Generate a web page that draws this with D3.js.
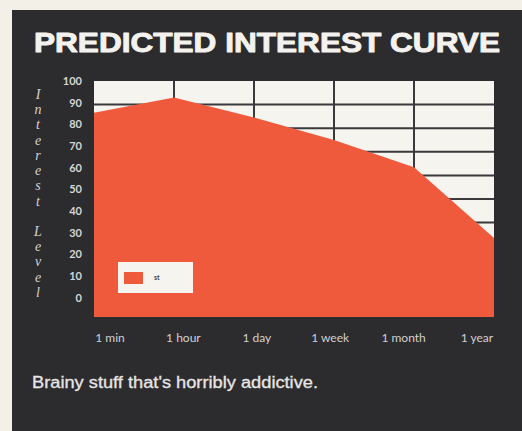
<!DOCTYPE html>
<html>
<head>
<meta charset="utf-8">
<script src="https://cdn.jsdelivr.net/npm/d3@7"></script>
<style>
  html, body { margin: 0; padding: 0; background: #f3f0e7; }
  svg { display: block; }
</style>
</head>
<body>
<svg id="chart" width="522" height="431"></svg>
<script>
// Time horizons along the bottom
const periods = ["1 min", "1 hour", "1 day", "1 week", "1 month", "1 year"];
// Interest level at each horizon
const interest = [86.5, 93, 84.5, 75, 63.5, 33.5];
// Labels for the vertical scale
const levelTicks = [0, 10, 20, 30, 40, 50, 60, 70, 80, 90, 100];
const gridLevels = [10, 20, 30, 40, 50, 60, 70, 80, 90];
const axisTitle = "Interest Level";
const legendKey = "st";

const svg = d3.select("#chart");

// dark panel
svg.append("rect").attr("x", 12).attr("y", 10).attr("width", 510).attr("height", 421)
  .attr("fill", "#2c2b2d");

// title, stroked to thicken the heavy face
svg.append("text").attr("x", 34).attr("y", 52)
  .attr("font-family", "Liberation Sans, Arial, sans-serif")
  .attr("font-weight", 900).attr("font-size", 28)
  .attr("textLength", 466).attr("lengthAdjust", "spacingAndGlyphs")
  .attr("fill", "#f4f2ee").attr("stroke", "#f4f2ee").attr("stroke-width", 1)
  .attr("stroke-linejoin", "round")
  .text("PREDICTED INTEREST CURVE");

const plot = { left: 94, right: 494, top: 81, bottom: 317 };

const x = d3.scalePoint().domain(periods).range([plot.left, plot.right]);
const y = d3.scaleLinear().domain([0, 100]).range([plot.bottom, plot.top]);
// printed scale labels sit slightly compressed against the grid
const yLabel = d3.scaleLinear().domain([0, 100]).range([298, 81]);
const xLabel = d3.scalePoint().domain(periods).range([110, 477]);

// plot background
svg.append("rect").attr("x", plot.left).attr("y", plot.top)
  .attr("width", plot.right - plot.left).attr("height", plot.bottom - plot.top)
  .attr("fill", "#f6f4ef");

// grid
const grid = svg.append("g").attr("stroke", "#3a393b").attr("stroke-width", 2);
grid.selectAll("line.h").data(gridLevels).join("line").attr("class", "h")
  .attr("x1", plot.left).attr("x2", plot.right)
  .attr("y1", d => y(d)).attr("y2", d => y(d));
grid.selectAll("line.v").data(periods.slice(1, -1)).join("line").attr("class", "v")
  .attr("x1", d => x(d)).attr("x2", d => x(d))
  .attr("y1", plot.top).attr("y2", plot.bottom);

// area
const area = d3.area()
  .x((d, i) => x(periods[i]))
  .y0(y(0))
  .y1(d => y(d));
svg.append("path").datum(interest).attr("d", area).attr("fill", "#ef5a3d");

// y tick labels
svg.append("g").selectAll("text").data(levelTicks).join("text")
  .attr("x", 82).attr("y", d => yLabel(d)).attr("dy", "0.35em")
  .attr("text-anchor", "end")
  .attr("font-family", "Lato, sans-serif").attr("font-size", 11).attr("font-weight", 700)
  .attr("fill", "#d6d6d6").text(d => d);

// vertical axis title, letters stacked
const letters = axisTitle.split("");
const letterY = d3.scalePoint().domain(d3.range(letters.length)).range([94, 292]);
svg.append("g").selectAll("text").data(letters).join("text")
  .attr("x", 38).attr("y", (d, i) => letterY(i)).attr("dy", "0.35em")
  .attr("text-anchor", "middle")
  .attr("font-family", "Liberation Serif, serif").attr("font-style", "italic")
  .attr("font-size", 14).attr("fill", "#d4d4d4").text(d => d);

// x labels
svg.append("g").selectAll("text").data(periods).join("text")
  .attr("x", d => xLabel(d)).attr("y", 338).attr("dy", "0.35em")
  .attr("text-anchor", "middle")
  .attr("font-family", "Lato, sans-serif").attr("font-size", 12)
  .attr("fill", "#d2d2d2").text(d => d);

// legend
const lg = svg.append("g");
lg.append("rect").attr("x", 118).attr("y", 262).attr("width", 75).attr("height", 31)
  .attr("fill", "#f6f4ef");
lg.append("rect").attr("x", 124).attr("y", 272).attr("width", 19).attr("height", 12)
  .attr("fill", "#ef5a3d");
lg.append("text").attr("x", 154).attr("y", 278).attr("dy", "0.35em")
  .attr("font-family", "Lato, sans-serif").attr("font-size", 7).attr("font-weight", 700)
  .attr("fill", "#444").text(legendKey);

// caption
svg.append("text").attr("x", 32).attr("y", 388)
  .attr("font-family", "Liberation Sans, Arial, sans-serif").attr("font-size", 16)
  .attr("textLength", 286).attr("lengthAdjust", "spacingAndGlyphs")
  .attr("fill", "#e6e6e6").attr("stroke", "#e6e6e6").attr("stroke-width", 0.3)
  .text("Brainy stuff that's horribly addictive.");
</script>
</body>
</html>
